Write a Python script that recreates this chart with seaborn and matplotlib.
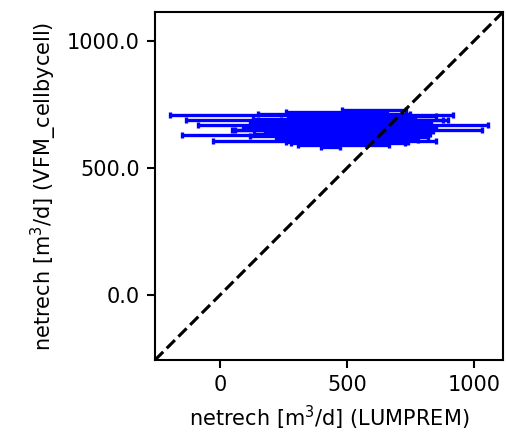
import numpy as np
import pandas as pd
import matplotlib
matplotlib.use("Agg")
import matplotlib.pyplot as plt
import seaborn as sns
from matplotlib.ticker import FormatStrFormatter

# LUMPREM mean (x), VFM_cellbycell value (y), LUMPREM half-range (xerr)
x_lumprem = [361, 382, 485, 306, 546, 480, 413, 488, 436, 609,
             450, 520, 410, 560, 470, 390, 530, 430, 500, 560,
             420, 480, 380, 520, 450, 600, 500, 440, 580, 470,
             530, 600, 350, 620, 460]
y_vfm = [708, 688, 672, 630, 651, 633, 608, 591, 584, 728,
         715, 700, 695, 690, 680, 675, 668, 660, 655, 645,
         642, 638, 625, 622, 618, 612, 605, 600, 598, 662,
         683, 705, 650, 635, 720]
x_err = [558, 516, 570, 454, 486, 347, 440, 180, 36, 126,
         300, 250, 280, 320, 350, 260, 220, 330, 300, 280,
         240, 200, 260, 300, 220, 180, 240, 160, 150, 380,
         300, 250, 300, 200, 200]

lims = [-255, 1115]

df = pd.DataFrame({"x": x_lumprem, "y": y_vfm, "xerr": x_err})
diag = pd.DataFrame({"a": lims, "b": lims})

sns.set_style("ticks", {"axes.edgecolor": "black", "xtick.color": "black",
                        "ytick.color": "black", "text.color": "black",
                        "axes.labelcolor": "black"})
plt.rcParams["font.family"] = ["DejaVu Sans"]
plt.rcParams["font.size"] = 10

fig = plt.figure(figsize=(506 / 150, 434 / 150), dpi=150)
ax = fig.add_axes([155 / 506, 74 / 434, 348 / 506, 348 / 434])

ax.errorbar(df["x"], df["y"], xerr=df["xerr"], fmt="none", ecolor="blue",
            elinewidth=1.6, capsize=1.5, capthick=1.6)
sns.lineplot(data=diag, x="a", y="b", ax=ax, color="black", linestyle="--",
             linewidth=1.5, legend=False)

ax.set_xlim(lims)
ax.set_ylim(lims)
ax.set_xticks([0, 500, 1000])
ax.set_yticks([0, 500, 1000])
ax.yaxis.set_major_formatter(FormatStrFormatter("%.1f"))
ax.set_xlabel("netrech [m$^3$/d] (LUMPREM)")
ax.set_ylabel("netrech [m$^3$/d] (VFM_cellbycell)")
for s in ax.spines.values():
    s.set_visible(True)
    s.set_linewidth(1.0)
ax.tick_params(direction="out", length=3.8, width=1.0, labelsize=10)

fig.savefig("out.png", dpi=150)
